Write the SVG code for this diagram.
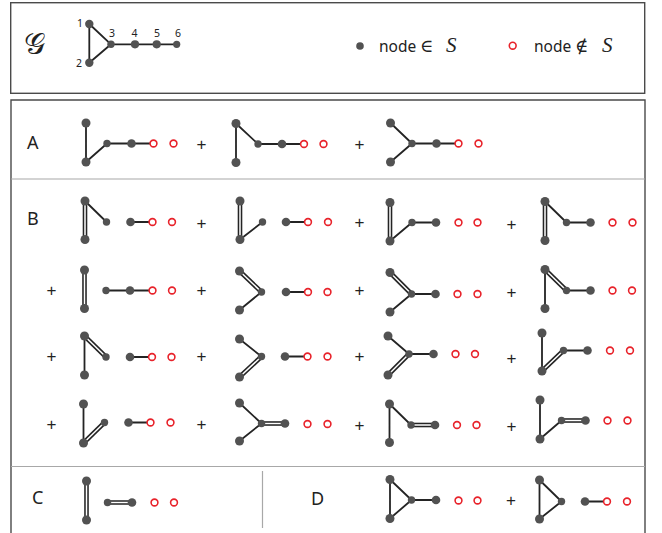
<svg xmlns="http://www.w3.org/2000/svg" width="662" height="533" viewBox="0 0 662 533">
<style>
.frame{fill:none;stroke:#4a4a4a;stroke-width:1.4}
.sep{fill:none;stroke:#a8a8a8;stroke-width:1.2}
.e{fill:none;stroke:#242424;stroke-width:1.8}
.d{fill:none;stroke:#242424;stroke-width:4.6}
.dw{fill:none;stroke:#fff;stroke-width:1.5}
.n{fill:#525252}
.r{fill:#fff;stroke:#e8232b;stroke-width:1.6}
.lab{font-family:"Noto Sans","Liberation Sans",sans-serif;font-size:18px;fill:#222}
.plus{font-family:"Liberation Sans",sans-serif;font-size:17px;fill:#222;text-anchor:middle}
.num{font-family:"Noto Sans","Liberation Sans",sans-serif;font-size:10.5px;fill:#222;text-anchor:middle}
.leg{font-family:"Noto Sans","Liberation Sans",sans-serif;font-size:15.5px;fill:#222}
.math{font-family:"DejaVu Serif","Liberation Serif",serif;font-size:18px}
.mi{font-family:"Liberation Serif",serif;font-style:italic;font-size:21px}
</style>

<!-- frames -->
<g id="frames">
<rect class="frame" x="10.7" y="2.7" width="634" height="90.6"/>
<path class="frame" d="M11 540V100H645V540"/>
<path class="sep" d="M11 179H645M11 466.5H645M262.5 471V528"/>
</g>

<!-- header graph G -->
<g id="G">
<text x="34" y="54" font-family="DejaVu Sans,'DejaVu Serif',serif" font-size="30" fill="#222" text-anchor="middle">𝒢</text>
<path class="e" d="M89.3 24V62.7M89.3 24L111 44.3M89.3 62.7L111 44.3M111 44.3H176.7"/>
<circle class="n" cx="89.3" cy="24" r="4.2"/><circle class="n" cx="89.3" cy="62.7" r="4.2"/>
<circle class="n" cx="111" cy="44.3" r="3.7"/><circle class="n" cx="135" cy="44.3" r="4.1"/>
<circle class="n" cx="156.7" cy="44.3" r="4.1"/><circle class="n" cx="176.7" cy="44.3" r="3.6"/>
<text class="num" x="80" y="26.5">1</text><text class="num" x="79" y="67">2</text>
<text class="num" x="112" y="37">3</text><text class="num" x="134.5" y="37">4</text>
<text class="num" x="157" y="37">5</text><text class="num" x="178" y="37">6</text>
</g>

<g id="legend">
<circle class="n" cx="360" cy="46" r="3.8"/>
<text class="leg" y="51.5"><tspan x="379">node</tspan><tspan class="math" x="420">∈</tspan><tspan class="mi" x="446">S</tspan></text>
<circle class="r" cx="512.7" cy="45.7" r="3.4"/>
<text class="leg" y="51.5"><tspan x="534">node</tspan><tspan class="math" x="575">∉</tspan><tspan class="mi" x="602">S</tspan></text>
</g>

<!-- labels -->
<g id="labels">
<text class="lab" x="27" y="149">A</text>
<text class="lab" x="27" y="225">B</text>
<text class="lab" x="32" y="504">C</text>
<text class="lab" x="311" y="505">D</text>
</g>

<g id="plus">
<text class="plus" x="201.5" y="149.5">+</text><text class="plus" x="359.5" y="149.5">+</text>
<text class="plus" x="201.5" y="229">+</text><text class="plus" x="359.5" y="228">+</text><text class="plus" x="511.5" y="230">+</text>
<text class="plus" x="51.5" y="296">+</text><text class="plus" x="201.5" y="296">+</text><text class="plus" x="359.5" y="295.5">+</text><text class="plus" x="511.5" y="297.5">+</text>
<text class="plus" x="51.5" y="362">+</text><text class="plus" x="201.5" y="362">+</text><text class="plus" x="359.5" y="362">+</text><text class="plus" x="511.5" y="364">+</text>
<text class="plus" x="51.5" y="430">+</text><text class="plus" x="201.5" y="430">+</text><text class="plus" x="359.5" y="430.5">+</text><text class="plus" x="511.5" y="432">+</text>
<text class="plus" x="511" y="506">+</text>
</g>

<!-- Row A -->
<g id="A1">
<path class="e" d="M86 123V162M86 162L107 143.5M107 143.5H153.5"/>
<circle class="n" cx="86" cy="123" r="4.5"/><circle class="n" cx="86" cy="162" r="4.5"/><circle class="n" cx="107" cy="143.5" r="3.7"/><circle class="n" cx="131.5" cy="143.5" r="4.3"/>
<circle class="r" cx="153.5" cy="143.5" r="3.4"/><circle class="r" cx="173.5" cy="143.5" r="3.4"/>
</g>
<g id="A2">
<path class="e" d="M236 123.5V162.5M236 123.5L258 144M258 144H304"/>
<circle class="n" cx="236" cy="123.5" r="4.5"/><circle class="n" cx="236" cy="162.5" r="4.5"/><circle class="n" cx="258" cy="144" r="3.7"/><circle class="n" cx="282" cy="144" r="4.3"/>
<circle class="r" cx="304" cy="144" r="3.4"/><circle class="r" cx="323.5" cy="144" r="3.4"/>
</g>
<g id="A3">
<path class="e" d="M390.5 123L412 143.5M390.5 162L412 143.5M412 143.5H458.5"/>
<circle class="n" cx="390.5" cy="123" r="4.5"/><circle class="n" cx="390.5" cy="162" r="4.5"/><circle class="n" cx="412" cy="143.5" r="3.7"/><circle class="n" cx="436.5" cy="143.5" r="4.3"/>
<circle class="r" cx="458.5" cy="143.5" r="3.4"/><circle class="r" cx="478.5" cy="143.5" r="3.4"/>
</g>

<!-- Row B1 -->
<g id="B1a">
<path class="d" d="M85 201V239.5"/><path class="dw" d="M85 201V239.5"/>
<path class="e" d="M85 201L106.5 222M130.5 222H152.5"/>
<circle class="n" cx="85" cy="201" r="4.5"/><circle class="n" cx="85" cy="239.5" r="4.5"/><circle class="n" cx="106.5" cy="222" r="3.7"/><circle class="n" cx="130.5" cy="222" r="4.3"/>
<circle class="r" cx="152.5" cy="222" r="3.4"/><circle class="r" cx="172" cy="222" r="3.4"/>
</g>
<g id="B1b">
<path class="d" d="M240 201V239.5"/><path class="dw" d="M240 201V239.5"/>
<path class="e" d="M240 239.5L262.5 222M286 222H308"/>
<circle class="n" cx="240" cy="201" r="4.5"/><circle class="n" cx="240" cy="239.5" r="4.5"/><circle class="n" cx="262.5" cy="222" r="3.7"/><circle class="n" cx="286" cy="222" r="4.3"/>
<circle class="r" cx="308" cy="222" r="3.4"/><circle class="r" cx="328" cy="222" r="3.4"/>
</g>
<g id="B1c">
<path class="d" d="M390 202.5V241"/><path class="dw" d="M390 202.5V241"/>
<path class="e" d="M390 241L412 222.5M412 222.5H436"/>
<circle class="n" cx="390" cy="202.5" r="4.5"/><circle class="n" cx="390" cy="241" r="4.5"/><circle class="n" cx="412" cy="222.5" r="3.7"/><circle class="n" cx="436" cy="222.5" r="4.3"/>
<circle class="r" cx="458.5" cy="222.5" r="3.4"/><circle class="r" cx="477.5" cy="222.5" r="3.4"/>
</g>
<g id="B1d">
<path class="d" d="M545 201.5V240.5"/><path class="dw" d="M545 201.5V240.5"/>
<path class="e" d="M545 201.5L566.5 222.5M566.5 222.5H590.5"/>
<circle class="n" cx="545" cy="201.5" r="4.5"/><circle class="n" cx="545" cy="240.5" r="4.5"/><circle class="n" cx="566.5" cy="222.5" r="3.7"/><circle class="n" cx="590.5" cy="222.5" r="4.3"/>
<circle class="r" cx="612.5" cy="222.5" r="3.4"/><circle class="r" cx="632.5" cy="222.5" r="3.4"/>
</g>

<!-- Row B2 -->
<g id="B2a">
<path class="d" d="M84.5 270V308.5"/><path class="dw" d="M84.5 270V308.5"/>
<path class="e" d="M106 290.5H152.5"/>
<circle class="n" cx="84.5" cy="270" r="4.5"/><circle class="n" cx="84.5" cy="308.5" r="4.5"/><circle class="n" cx="106" cy="290.5" r="3.7"/><circle class="n" cx="130" cy="290.5" r="4.3"/>
<circle class="r" cx="152.5" cy="290.5" r="3.4"/><circle class="r" cx="172" cy="290.5" r="3.4"/>
</g>
<g id="B2b">
<path class="d" d="M239.5 271L261.5 292"/><path class="dw" d="M239.5 271L261.5 292"/>
<path class="e" d="M239.5 310L261.5 292M286 292H308"/>
<circle class="n" cx="239.5" cy="271" r="4.5"/><circle class="n" cx="239.5" cy="310" r="4.5"/><circle class="n" cx="261.5" cy="292" r="3.7"/><circle class="n" cx="286" cy="292" r="4.3"/>
<circle class="r" cx="308" cy="292" r="3.4"/><circle class="r" cx="327.5" cy="292" r="3.4"/>
</g>
<g id="B2c">
<path class="d" d="M390 272.5L411.5 294"/><path class="dw" d="M390 272.5L411.5 294"/>
<path class="e" d="M390 312L411.5 294M411.5 294H435.5"/>
<circle class="n" cx="390" cy="272.5" r="4.5"/><circle class="n" cx="390" cy="312" r="4.5"/><circle class="n" cx="411.5" cy="294" r="3.7"/><circle class="n" cx="435.5" cy="294" r="4.3"/>
<circle class="r" cx="457.5" cy="294" r="3.4"/><circle class="r" cx="477.5" cy="294" r="3.4"/>
</g>
<g id="B2d">
<path class="d" d="M545 269.5L566.5 290.5"/><path class="dw" d="M545 269.5L566.5 290.5"/>
<path class="e" d="M545 269.5V308.5M566.5 290.5H590.5"/>
<circle class="n" cx="545" cy="269.5" r="4.5"/><circle class="n" cx="545" cy="308.5" r="4.5"/><circle class="n" cx="566.5" cy="290.5" r="3.7"/><circle class="n" cx="590.5" cy="290.5" r="4.3"/>
<circle class="r" cx="612.5" cy="290.5" r="3.4"/><circle class="r" cx="632" cy="290.5" r="3.4"/>
</g>

<!-- Row B3 -->
<g id="B3a">
<path class="d" d="M84.5 336L106 357"/><path class="dw" d="M84.5 336L106 357"/>
<path class="e" d="M84.5 336V375M130 357H152"/>
<circle class="n" cx="84.5" cy="336" r="4.5"/><circle class="n" cx="84.5" cy="375" r="4.5"/><circle class="n" cx="106" cy="357" r="3.7"/><circle class="n" cx="130" cy="357" r="4.3"/>
<circle class="r" cx="152" cy="357" r="3.4"/><circle class="r" cx="171.5" cy="357" r="3.4"/>
</g>
<g id="B3b">
<path class="d" d="M239.5 377L261.5 356.5"/><path class="dw" d="M239.5 377L261.5 356.5"/>
<path class="e" d="M239.5 339L261.5 356.5M285 356.5H307.5"/>
<circle class="n" cx="239.5" cy="339" r="4.5"/><circle class="n" cx="239.5" cy="377" r="4.5"/><circle class="n" cx="261.5" cy="356.5" r="3.7"/><circle class="n" cx="285" cy="356.5" r="4.3"/>
<circle class="r" cx="307.5" cy="356.5" r="3.4"/><circle class="r" cx="327.5" cy="356.5" r="3.4"/>
</g>
<g id="B3c">
<path class="d" d="M388 375L409 354"/><path class="dw" d="M388 375L409 354"/>
<path class="e" d="M388 336L409 354M409 354H433.5"/>
<circle class="n" cx="388" cy="336" r="4.5"/><circle class="n" cx="388" cy="375" r="4.5"/><circle class="n" cx="409" cy="354" r="3.7"/><circle class="n" cx="433.5" cy="354" r="4.3"/>
<circle class="r" cx="455.5" cy="354" r="3.4"/><circle class="r" cx="475" cy="354" r="3.4"/>
</g>
<g id="B3d">
<path class="d" d="M542 371L563.5 350.5"/><path class="dw" d="M542 371L563.5 350.5"/>
<path class="e" d="M542 333V371M563.5 350.5H587.5"/>
<circle class="n" cx="542" cy="333" r="4.5"/><circle class="n" cx="542" cy="371" r="4.5"/><circle class="n" cx="563.5" cy="350.5" r="3.7"/><circle class="n" cx="587.5" cy="350.5" r="4.3"/>
<circle class="r" cx="610" cy="350.5" r="3.4"/><circle class="r" cx="630" cy="350.5" r="3.4"/>
</g>

<!-- Row B4 -->
<g id="B4a">
<path class="d" d="M83.5 443L104.5 422.5"/><path class="dw" d="M83.5 443L104.5 422.5"/>
<path class="e" d="M83.5 404V443M128.5 422.5H150.5"/>
<circle class="n" cx="83.5" cy="404" r="4.5"/><circle class="n" cx="83.5" cy="443" r="4.5"/><circle class="n" cx="104.5" cy="422.5" r="3.7"/><circle class="n" cx="128.5" cy="422.5" r="4.3"/>
<circle class="r" cx="150.5" cy="422.5" r="3.4"/><circle class="r" cx="170.5" cy="422.5" r="3.4"/>
</g>
<g id="B4b">
<path class="d" d="M261.5 423.5H285"/><path class="dw" d="M261.5 423.5H285"/>
<path class="e" d="M239.5 403L261.5 423.5M239.5 441L261.5 423.5"/>
<circle class="n" cx="239.5" cy="403" r="4.5"/><circle class="n" cx="239.5" cy="441" r="4.5"/><circle class="n" cx="261.5" cy="423.5" r="3.7"/><circle class="n" cx="285" cy="423.5" r="4.3"/>
<circle class="r" cx="307.5" cy="424" r="3.4"/><circle class="r" cx="327.5" cy="424" r="3.4"/>
</g>
<g id="B4c">
<path class="d" d="M411 425H435"/><path class="dw" d="M411 425H435"/>
<path class="e" d="M389.5 404V442.5M389.5 404L411 425"/>
<circle class="n" cx="389.5" cy="404" r="4.5"/><circle class="n" cx="389.5" cy="442.5" r="4.5"/><circle class="n" cx="411" cy="425" r="3.7"/><circle class="n" cx="435" cy="425" r="4.3"/>
<circle class="r" cx="457" cy="425" r="3.4"/><circle class="r" cx="476.5" cy="425" r="3.4"/>
</g>
<g id="B4d">
<path class="d" d="M561.5 420.5H585.5"/><path class="dw" d="M561.5 420.5H585.5"/>
<path class="e" d="M540 400V439M540 439L561.5 420.5"/>
<circle class="n" cx="540" cy="400" r="4.5"/><circle class="n" cx="540" cy="439" r="4.5"/><circle class="n" cx="561.5" cy="420.5" r="3.7"/><circle class="n" cx="585.5" cy="420.5" r="4.3"/>
<circle class="r" cx="607.5" cy="420.5" r="3.4"/><circle class="r" cx="627.5" cy="420.5" r="3.4"/>
</g>

<!-- Row C / D -->
<g id="C1">
<path class="d" d="M86.5 481V520M107.5 502.5H132"/><path class="dw" d="M86.5 481V520M107.5 502.5H132"/>
<circle class="n" cx="86.5" cy="481" r="4.5"/><circle class="n" cx="86.5" cy="520" r="4.5"/><circle class="n" cx="107.5" cy="502.5" r="3.7"/><circle class="n" cx="132" cy="502.5" r="4.3"/>
<circle class="r" cx="154.5" cy="502.5" r="3.4"/><circle class="r" cx="174" cy="502.5" r="3.4"/>
</g>
<g id="D1">
<path class="e" d="M390 479.5V518.5M390 479.5L411.5 500M390 518.5L411.5 500M411.5 500H436"/>
<circle class="n" cx="390" cy="479.5" r="4.5"/><circle class="n" cx="390" cy="518.5" r="4.5"/><circle class="n" cx="411.5" cy="500" r="3.7"/><circle class="n" cx="436" cy="500" r="4.3"/>
<circle class="r" cx="458.5" cy="500.5" r="3.4"/><circle class="r" cx="477.5" cy="500.5" r="3.4"/>
</g>
<g id="D2">
<path class="e" d="M539.5 480V519M539.5 480L561.5 501.5M539.5 519L561.5 501.5M585 501.5H607"/>
<circle class="n" cx="539.5" cy="480" r="4.5"/><circle class="n" cx="539.5" cy="519" r="4.5"/><circle class="n" cx="561.5" cy="501.5" r="3.7"/><circle class="n" cx="585" cy="501.5" r="4.3"/>
<circle class="r" cx="607" cy="501.5" r="3.4"/><circle class="r" cx="627" cy="501.5" r="3.4"/>
</g>
</svg>
